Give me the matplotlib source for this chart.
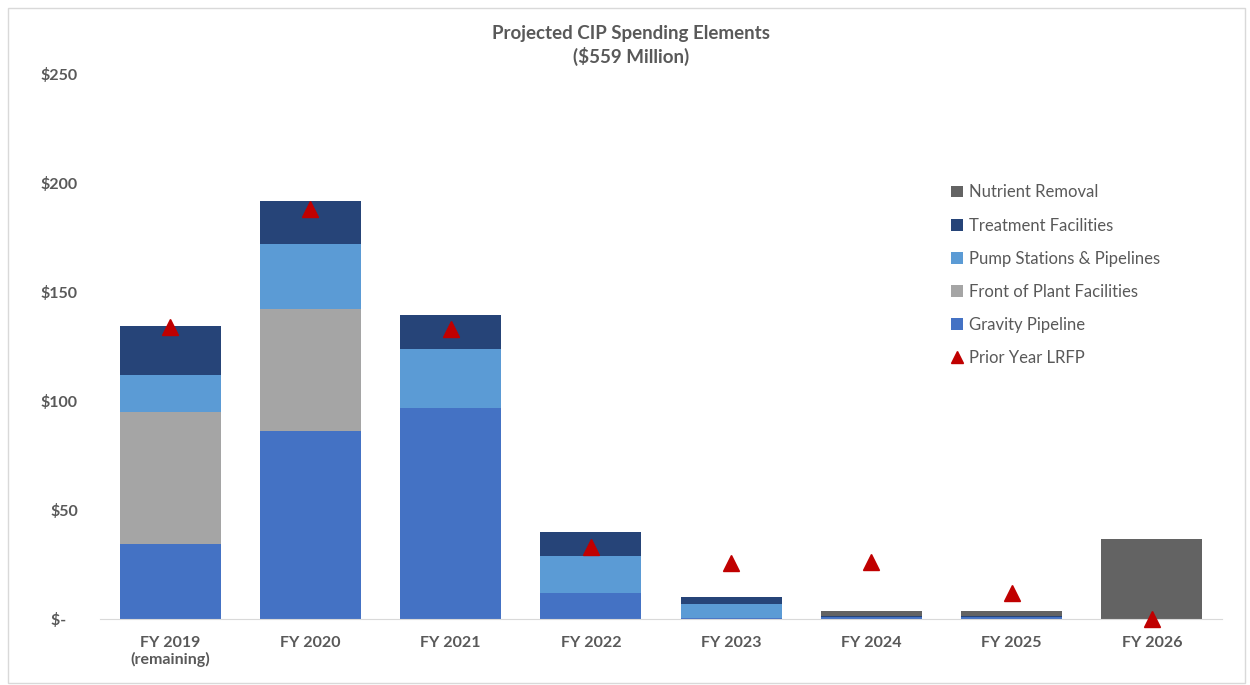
import matplotlib.pyplot as plt
from matplotlib.patches import Rectangle
from matplotlib.lines import Line2D

years = ["FY 2019\n(remaining)", "FY 2020", "FY 2021", "FY 2022",
         "FY 2023", "FY 2024", "FY 2025", "FY 2026"]
gravity = [34.4, 86.2, 96.8, 11.9, 0.3, 0.9, 0.9, 0]
front_plant = [60.6, 56.0, 0, 0, 0, 0, 0, 0]
pump = [17.0, 29.8, 27.1, 17.0, 6.6, 0, 0, 0]
treatment = [22.4, 19.7, 15.5, 11.0, 3.3, 0.6, 0.6, 0]
nutrient = [0, 0, 0, 0, 0, 2.3, 2.3, 36.6]
prior_lrfp = [134, 188, 133, 33, 25.7, 26.3, 12, 0]

series = [
    ("Gravity Pipeline", gravity, "#4472C4"),
    ("Front of Plant Facilities", front_plant, "#A5A5A5"),
    ("Pump Stations & Pipelines", pump, "#5B9BD5"),
    ("Treatment Facilities", treatment, "#264478"),
    ("Nutrient Removal", nutrient, "#636363"),
]

plt.rcParams['font.family'] = ['Lato', 'DejaVu Sans']
txt = "#595959"

fig = plt.figure(figsize=(12.5, 6.85), dpi=100)
ax = fig.add_axes([0.08, 0.0964, 0.8976, 0.7956])

x = range(len(years))
bottom = [0] * len(years)
handles = []
for name, vals, col in series:
    h = ax.bar(x, vals, 0.72, bottom=bottom, color=col, label=name)
    handles.append(h)
    bottom = [b + v for b, v in zip(bottom, vals)]

ax.plot(x, prior_lrfp, linestyle="none", marker="^", markersize=12,
        color="#C00000", clip_on=False, zorder=5)
tri = Line2D([], [], linestyle="none", marker="^", markersize=9,
             color="#C00000", label="Prior Year LRFP")

ax.set_xlim(-0.5, len(years) - 0.5)
ax.set_ylim(0, 250)
ax.set_yticks([0, 50, 100, 150, 200, 250])
ax.set_yticklabels(["$-   ", "$50", "$100", "$150", "$200", "$250"])
ax.set_xticks(list(x))
ax.set_xticklabels(years)
for lab in ax.get_xticklabels() + ax.get_yticklabels():
    lab.set_fontweight("bold")
    lab.set_color(txt)
    lab.set_fontsize(11.5)
ax.tick_params(length=0, pad=12)
ax.tick_params(axis="y", pad=16)
for s in ["top", "right", "left"]:
    ax.spines[s].set_visible(False)
ax.spines["bottom"].set_color("#D9D9D9")

fig.text(0.505, 0.964, "Projected CIP Spending Elements\n($559 Million)", ha="center",
         va="top", fontsize=13.5, fontweight="bold", color=txt, linespacing=1.35)

leg_h = handles[::-1] + [tri]
leg = ax.legend(leg_h, [h.get_label() for h in leg_h], loc="upper left",
                bbox_to_anchor=(0.745, 0.825), frameon=False, fontsize=12,
                labelspacing=1.03, handlelength=0.7, handleheight=0.7,
                handletextpad=0.4)
for t in leg.get_texts():
    t.set_color(txt)

fig.patches.append(Rectangle((0.006, 0.003), 0.99, 0.985, transform=fig.transFigure,
                             fill=False, edgecolor="#D9D9D9", linewidth=1))

fig.savefig("out.png", dpi=100)
